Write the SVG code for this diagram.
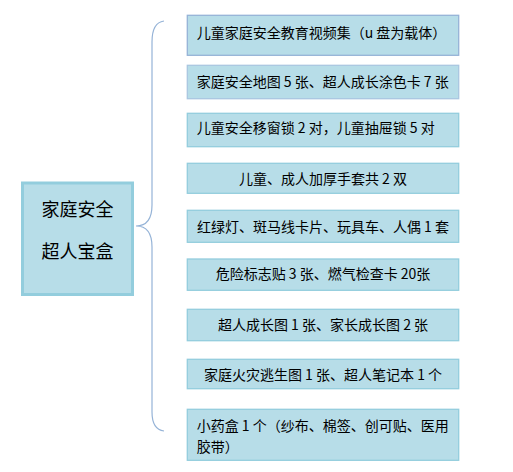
<svg xmlns="http://www.w3.org/2000/svg" width="513" height="472" viewBox="0 0 513 472">
<style>
.box{fill:#b7dde8;stroke:#93cddd;stroke-width:1.3}
.t{font-family:"Microsoft YaHei","Noto Sans CJK SC",sans-serif;font-size:14px;fill:#000}
.c{text-anchor:middle}
.big{font-family:"Microsoft YaHei","Noto Sans CJK SC",sans-serif;font-size:18px;fill:#000;text-anchor:middle}
.brace{fill:none;stroke:#95b3d7;stroke-width:1.2}
</style>
<rect width="513" height="472" fill="#fff"/>
<g id="connectors">
<path class="brace" d="M164,21 C156,22 152,28 152,42 L152,205 C152,220 146,226 136,226 C146,226 152,232 152,247 L152,412 C152,424 156,430 164,431"/>
</g>
<g id="root">
<rect x="22.5" y="183" width="110" height="111.5" fill="#b7dde8" stroke="#93cddd" stroke-width="3"/>
<text class="big" x="77.5" y="216">家庭安全</text>
<text class="big" x="77.5" y="258">超人宝盒</text>
</g>
<g id="n1"><rect class="box" x="187.3" y="15.3" width="271.4" height="40" style="stroke:#95b3d7"/><text class="t" x="196.7" y="38">儿童家庭安全教育视频集（u 盘为载体）</text></g>
<g id="n2"><rect class="box" x="187.3" y="65.3" width="271.4" height="33.4" style="stroke:#a9c7e0"/><text class="t" x="196.7" y="86.7">家庭安全地图 5 张、超人成长涂色卡 7 张</text></g>
<g id="n3"><rect class="box" x="187.3" y="113.3" width="271.4" height="33.4"/><text class="t" x="196.7" y="132.7">儿童安全移窗锁 2 对，儿童抽屉锁 5 对</text></g>
<g id="n4"><rect class="box" x="187.3" y="163.3" width="271.4" height="30"/><text class="t c" x="323" y="184">儿童、成人加厚手套共 2 双</text></g>
<g id="n5"><rect class="box" x="187.3" y="210.3" width="271.4" height="32"/><text class="t c" x="323" y="231.7">红绿灯、斑马线卡片、玩具车、人偶 1 套</text></g>
<g id="n6"><rect class="box" x="187.3" y="259" width="271.4" height="31.3"/><text class="t c" x="323" y="279.3">危险标志贴 3 张、燃气检查卡 20张</text></g>
<g id="n7"><rect class="box" x="187.3" y="309.3" width="271.4" height="31.4"/><text class="t c" x="323" y="330">超人成长图 1 张、家长成长图 2 张</text></g>
<g id="n8"><rect class="box" x="187.3" y="359.3" width="271.4" height="29.4"/><text class="t c" x="323" y="380">家庭火灾逃生图 1 张、超人笔记本 1 个</text></g>
<g id="n9"><rect class="box" x="187.3" y="409.3" width="271.4" height="51"/><text class="t" x="196.7" y="431">小药盒 1 个（纱布、棉签、创可贴、医用</text><text class="t" x="196.7" y="451.7">胶带）</text></g>
</svg>
